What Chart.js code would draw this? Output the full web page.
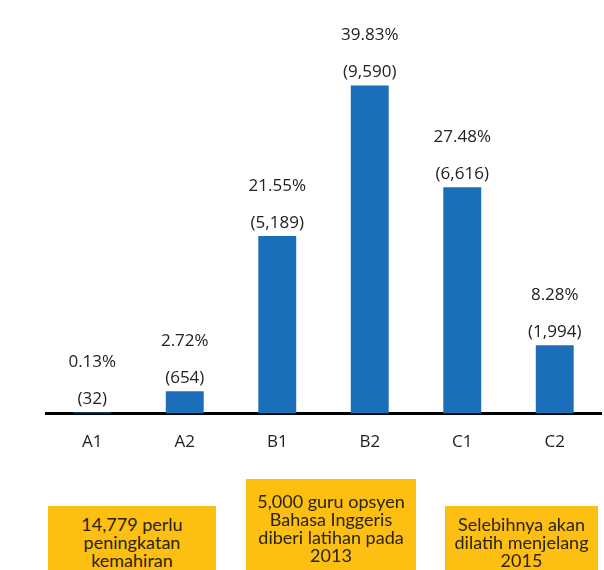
<!DOCTYPE html>
<html>
    <head>
        <title>Tahap Kemahiran Guru</title>
        <script src="https://cdn.jsdelivr.net/npm/chart.js@4/dist/chart.umd.min.js"></script>
        <style>
            body { margin: 0; background: #fff; }
            .wrap { position: relative; width: 604px; height: 570px; overflow: hidden; }
            .note {
                position: absolute;
                background: #FDBF12;
                color: #2a2410;
                font-family: 'Lato', sans-serif;
                font-size: 18px;
                line-height: 18px;
                text-align: center;
                box-sizing: border-box;
            }
        </style>
    </head>
    <body>
        <div class="wrap">
            <canvas id="myChart" width="604" height="570"></canvas>
            <div class="note" style="left:48px; top:506px; width:168px; height:70px; padding-top:9px;">14,779 perlu<br>peningkatan<br>kemahiran</div>
            <div class="note" style="left:246px; top:479px; width:170px; height:95px; padding-top:13px;">5,000 guru opsyen<br>Bahasa Inggeris<br>diberi latihan pada<br>2013</div>
            <div class="note" style="left:445px; top:506px; width:153px; height:70px; padding-top:9px;">Selebihnya akan<br>dilatih menjelang<br>2015</div>
        </div>

        <script>
            // data
            var levels = ['A1', 'A2', 'B1', 'B2', 'C1', 'C2'];
            var teachers = [32, 654, 5189, 9590, 6616, 1994];
            var percents = ['0.13%', '2.72%', '21.55%', '39.83%', '27.48%', '8.28%'];
            var counts = ['(32)', '(654)', '(5,189)', '(9,590)', '(6,616)', '(1,994)'];

            // draws the two labels above each bar
            var barLabels = {
                id: 'barLabels',
                afterDatasetsDraw: function(chart) {
                    var ctx = chart.ctx;
                    var meta = chart.getDatasetMeta(0);
                    ctx.save();
                    ctx.fillStyle = '#222';
                    ctx.font = '17px "Open Sans", sans-serif';
                    ctx.textAlign = 'center';
                    ctx.textBaseline = 'middle';
                    meta.data.forEach(function(bar, i) {
                        ctx.fillText(counts[i], bar.x, bar.y - 13);
                        ctx.fillText(percents[i], bar.x, bar.y - 50);
                    });
                    ctx.restore();
                }
            };

            var ctx = document.getElementById('myChart').getContext('2d');
            var chart = new Chart(ctx, {
                type: 'bar',
                data: {
                    labels: levels,
                    datasets: [{
                        data: teachers,
                        backgroundColor: '#1B6EBA',
                        categoryPercentage: 1,
                        barPercentage: 0.41
                    }]
                },
                options: {
                    responsive: false,
                    animation: false,
                    layout: { padding: { left: 46, right: 3, top: 3, bottom: 108 } },
                    plugins: { legend: { display: false }, tooltip: { enabled: false } },
                    scales: {
                        x: {
                            grid: { display: false },
                            border: { display: true, color: '#000', width: 3 },
                            ticks: {
                                color: '#222',
                                padding: 10,
                                font: { family: '"Open Sans", sans-serif', size: 17 }
                            }
                        },
                        y: {
                            display: false,
                            min: 0,
                            max: 12000
                        }
                    }
                },
                plugins: [barLabels]
            });
        </script>
    </body>
</html>
